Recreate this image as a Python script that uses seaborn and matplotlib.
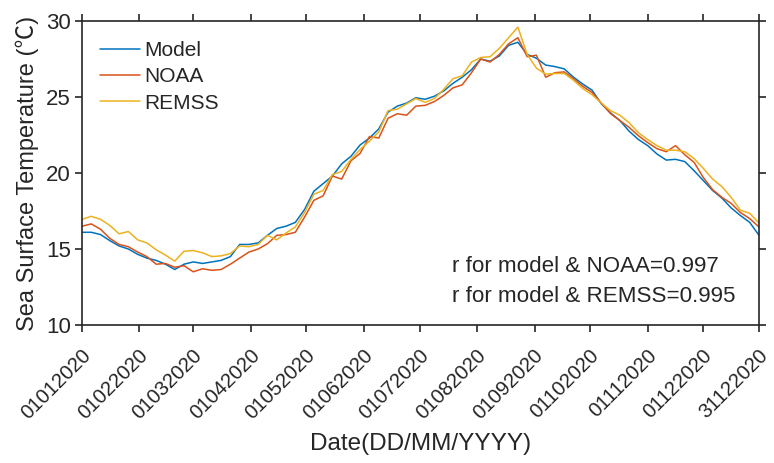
import numpy as np
import pandas as pd
import matplotlib
matplotlib.use("Agg")
import matplotlib.pyplot as plt
import seaborn as sns
from matplotlib.transforms import ScaledTranslation

# ---------------- data ----------------
day_offsets = list(range(0, 366, 5))  # days since 01/01/2020

model = [16.1, 16.1, 15.95, 15.55, 15.2, 15.0, 14.65, 14.4, 14.25, 14.0,
         13.65, 14.0, 14.15, 14.05, 14.15, 14.25, 14.5, 15.3, 15.3, 15.4,
         15.9, 16.35, 16.5, 16.75, 17.6, 18.8, 19.3, 19.8, 20.6, 21.1,
         21.85, 22.3, 22.9, 24.0, 24.4, 24.6, 24.95, 24.85, 25.05, 25.4,
         25.9, 26.3, 26.8, 27.5, 27.35, 27.7, 28.4, 28.6, 27.8, 27.55,
         27.1, 27.0, 26.85, 26.3, 25.85, 25.45, 24.55, 23.95, 23.45, 22.75,
         22.2, 21.8, 21.25, 20.85, 20.9, 20.75, 20.15, 19.5, 18.85, 18.35,
         17.7, 17.2, 16.75, 15.9]

noaa = [16.5, 16.65, 16.3, 15.7, 15.3, 15.15, 14.8, 14.5, 14.0, 14.05,
        13.8, 13.9, 13.5, 13.7, 13.6, 13.65, 14.0, 14.4, 14.8, 15.0,
        15.35, 15.9, 15.95, 16.1, 17.1, 18.2, 18.5, 19.8, 19.6, 20.8,
        21.3, 22.4, 22.3, 23.6, 23.9, 23.8, 24.4, 24.45, 24.7, 25.1,
        25.6, 25.8, 26.6, 27.5, 27.3, 27.8, 28.5, 28.9, 27.65, 27.75,
        26.3, 26.6, 26.65, 26.2, 25.7, 25.3, 24.6, 23.9, 23.45, 23.0,
        22.45, 22.0, 21.6, 21.4, 21.8, 21.2, 20.7, 19.7, 18.9, 18.4,
        18.0, 17.4, 17.0, 16.45]

remss = [16.95, 17.15, 16.95, 16.55, 16.0, 16.15, 15.6, 15.4, 14.95, 14.6,
         14.2, 14.85, 14.9, 14.75, 14.5, 14.55, 14.7, 15.2, 15.15, 15.3,
         15.9, 15.6, 16.05, 16.45, 17.4, 18.6, 18.85, 19.9, 20.1, 20.9,
         21.55, 22.1, 22.7, 24.1, 24.2, 24.55, 24.9, 24.65, 24.9, 25.5,
         26.2, 26.4, 27.3, 27.6, 27.65, 28.2, 28.9, 29.6, 27.8, 26.9,
         26.5, 26.55, 26.55, 26.1, 25.55, 25.15, 24.6, 24.1, 23.8, 23.3,
         22.65, 22.2, 21.8, 21.5, 21.5, 21.4, 20.95, 20.3, 19.6, 19.1,
         18.4, 17.55, 17.35, 16.7]

series_names = ["Model", "NOAA", "REMSS"]
series_colors = ["#0072BD", "#D95319", "#EDB120"]

x_tick_labels = ["01012020", "01022020", "01032020", "01042020", "01052020",
                 "01062020", "01072020", "01082020", "01092020", "01102020",
                 "01112020", "01122020", "31122020"]
y_ticks = [10, 15, 20, 25, 30]
r_texts = ["r for model & NOAA=0.997", "r for model & REMSS=0.995"]

# ---------------- build table ----------------
start = pd.Timestamp("2020-01-01")
dates = start + pd.to_timedelta(day_offsets, unit="D")
df = pd.DataFrame({
    "date": np.tile(dates, 3),
    "sst": model + noaa + remss,
    "source": np.repeat(series_names, len(dates)),
})

# ---------------- style ----------------
sns.set_style("white")
plt.rcParams["font.family"] = ["Liberation Sans", "Noto Sans CJK SC", "DejaVu Sans"]
dark = "#262626"

fig = plt.figure(figsize=(7.74, 4.63), dpi=100)
ax = fig.add_axes([82 / 774, 1 - 325 / 463, (759 - 82) / 774, (325 - 21) / 463])

sns.lineplot(data=df, x="date", y="sst", hue="source", hue_order=series_names,
             palette=series_colors, linewidth=1.1, ax=ax, legend=True)

tick_dates = pd.to_datetime(x_tick_labels, format="%d%m%Y")
ax.set_xlim(tick_dates[0], tick_dates[-1])
ax.set_ylim(10, 30)
ax.set_xticks(tick_dates)
ax.set_xticklabels(x_tick_labels)
ax.set_yticks(y_ticks)
ax.set_yticklabels([str(v) for v in y_ticks])

for s in ax.spines.values():
    s.set_visible(True)
    s.set_color(dark)
    s.set_linewidth(1.2)

ax.tick_params(axis="both", which="major", direction="out", length=5, width=1.2,
               color=dark, labelcolor=dark,
               top=True, right=True, bottom=True, left=True,
               labeltop=False, labelright=False)
ax.tick_params(axis="x", pad=15, labelsize=14.6)
ax.tick_params(axis="y", pad=3, labelsize=16)

offset = ScaledTranslation(6 / 100, 0, fig.dpi_scale_trans)
for lab in ax.get_xticklabels():
    lab.set_rotation(45)
    lab.set_rotation_mode("anchor")
    lab.set_ha("right")
    lab.set_va("center")
    lab.set_transform(lab.get_transform() + offset)

ax.set_xlabel("Date(DD/MM/YYYY)", fontsize=17.5, color=dark, labelpad=7)
ax.set_ylabel("Sea Surface Temperature (\u2103)", fontsize=17, color=dark, labelpad=5)

leg = ax.legend(loc="upper left", bbox_to_anchor=(0.0074, 0.975), frameon=False,
                fontsize=15, handlelength=1.92, handletextpad=0.25,
                labelspacing=0.35, borderaxespad=0.2)
for t in leg.get_texts():
    t.set_color(dark)

ax.text(0.5465, 0.191, r_texts[0], transform=ax.transAxes, fontsize=16.1,
        color=dark, ha="left", va="center")
ax.text(0.5465, 0.095, r_texts[1], transform=ax.transAxes, fontsize=16.1,
        color=dark, ha="left", va="center")

fig.savefig("out.png", dpi=100)
